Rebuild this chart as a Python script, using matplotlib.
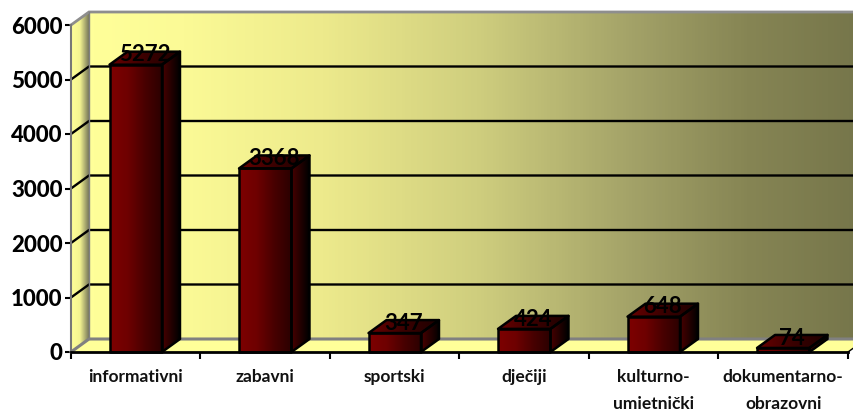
import matplotlib
matplotlib.use("Agg")
import matplotlib.pyplot as plt
import numpy as np
from matplotlib.colors import LinearSegmentedColormap
from matplotlib.patches import Polygon

plt.rcParams['font.family'] = ['Lato', 'DejaVu Sans']

categories = ['informativni', 'zabavni', 'sportski', 'dječiji',
              'kulturno-\numjetnički', 'dokumentarno-\nobrazovni']
values = [5272, 3368, 347, 424, 648, 74]
y_ticks = [0, 1000, 2000, 3000, 4000, 5000, 6000]

W, H = 854, 409
LEFT, RIGHT, TOP, BOTTOM = 71, 848, 25, 352
DEPTH_X, DEPTH_Y = 18, 13
BAR_WIDTH = 0.405

wall_cmap = LinearSegmentedColormap.from_list(
    'wall', [(0, '#FFFF99'), (0.12, '#FBFA96'), (0.3, '#EDEA8C'), (0.5, '#CFCE7E'),
             (0.7, '#A3A268'), (0.85, '#868554'), (1, '#75754A')])
side_cmap = LinearSegmentedColormap.from_list('side', ['#FFFF99', '#F4F490', '#77775A'])
front_cmap = LinearSegmentedColormap.from_list('front', ['#7E0000', '#6E0000', '#480000', '#2A0000'])
depth_cmap = LinearSegmentedColormap.from_list('depth', ['#4A0000', '#000000'])
top_cmap = LinearSegmentedColormap.from_list('top', ['#6A0000', '#3A0000', '#1E0000'])

fig = plt.figure(figsize=(W / 100, H / 100), dpi=100)
ax = fig.add_axes([LEFT / W, 1 - BOTTOM / H, (RIGHT - LEFT) / W, (BOTTOM - TOP) / H])
ax.set_xlim(-0.5, len(categories) - 0.5)
ax.set_ylim(0, 6000)
ax.set_autoscale_on(False)

# depth of the fake 3d in data units
dx = DEPTH_X * len(categories) / (RIGHT - LEFT)
dy = DEPTH_Y * 6000 / (BOTTOM - TOP)
x0, x1 = ax.get_xlim()


def gradient_poly(verts, cmap, zorder):
    verts = np.asarray(verts)
    grad = np.linspace(0, 1, 256).reshape(1, -1)
    im = ax.imshow(grad, cmap=cmap, aspect='auto', interpolation='bilinear', zorder=zorder,
                   extent=[verts[:, 0].min(), verts[:, 0].max(), verts[:, 1].min(), verts[:, 1].max()])
    im.set_clip_path(Polygon(verts, transform=ax.transData))
    im.set_clip_box(fig.bbox)


def edge_poly(verts, zorder):
    ax.add_patch(Polygon(verts, closed=True, facecolor='none', edgecolor='black',
                         linewidth=1.8, clip_on=False, zorder=zorder, joinstyle='round'))


# back wall, side wall and floor
gradient_poly([(x0 + dx, dy), (x1 + dx, dy), (x1 + dx, 6000 + dy), (x0 + dx, 6000 + dy)], wall_cmap, 1)
gradient_poly([(x0, 0), (x0 + dx, dy), (x0 + dx, 6000 + dy), (x0, 6000)], side_cmap, 1)
ax.add_patch(Polygon([(x0, 0), (x1, 0), (x1 + dx, dy), (x0 + dx, dy)], closed=True,
                     facecolor='#FFFF99', edgecolor='none', clip_on=False, zorder=1.5))

# grid on the walls
for tick in y_ticks[1:-1]:
    ax.plot([x0, x0 + dx, x1 + dx], [tick, tick + dy, tick + dy], color='black', lw=1.7,
            clip_on=False, zorder=2)
ax.plot([x0, x0 + dx, x1 + dx], [6000, 6000 + dy, 6000 + dy], color='#8E8E8E', lw=2,
        clip_on=False, zorder=2, solid_joinstyle='miter')
ax.plot([x0, x0 + dx, x1 + dx], [0, dy, dy], color='#808080', lw=2.2, clip_on=False, zorder=2)
ax.plot([x0 + dx, x0 + dx], [dy, 6000 + dy], color='#808080', lw=1, clip_on=False, zorder=2)
ax.plot([x1, x1 + dx], [0, dy], color='black', lw=1, clip_on=False, zorder=2)

# bars
for i, value in enumerate(values):
    l, r = i - BAR_WIDTH / 2, i + BAR_WIDTH / 2
    z = 3 + i * 0.1
    top_face = [(l, value), (r, value), (r + dx, value + dy), (l + dx, value + dy)]
    side_face = [(r, 0), (r + dx, dy), (r + dx, value + dy), (r, value)]
    front_face = [(l, 0), (r, 0), (r, value), (l, value)]
    gradient_poly(top_face, top_cmap, z)
    gradient_poly(side_face, depth_cmap, z)
    gradient_poly(front_face, front_cmap, z)
    edge_poly(top_face, z + 0.01)
    edge_poly(side_face, z + 0.01)
    edge_poly(front_face, z + 0.01)
    ax.annotate(str(value), (i + dx / 2, value), xytext=(0, 7), textcoords='offset points',
                ha='center', va='center', fontsize=16, fontweight='bold', color='black',
                annotation_clip=False, zorder=6)

# axes and labels
ax.set_yticks(y_ticks)
ax.set_yticklabels([str(t) for t in y_ticks], fontsize=16, fontweight='black')
ax.set_xticks(np.arange(len(categories) + 1) - 0.5)
ax.set_xticklabels([])
ax.set_xticks(np.arange(len(categories)), minor=True)
ax.set_xticklabels(categories, minor=True, fontsize=12.5, fontweight='bold', linespacing=1.85,
                   color='#111111')
ax.tick_params(axis='y', length=4, width=1.5, pad=2)
ax.tick_params(axis='x', which='major', length=5, width=1.5)
ax.tick_params(axis='x', which='minor', length=0, pad=12)

for name in ['top', 'right']:
    ax.spines[name].set_visible(False)
ax.spines['left'].set_color('#777777')
ax.spines['left'].set_linewidth(1.5)
ax.spines['bottom'].set_linewidth(2)
ax.spines['bottom'].set_zorder(5)

fig.savefig('out.png', dpi=100)
